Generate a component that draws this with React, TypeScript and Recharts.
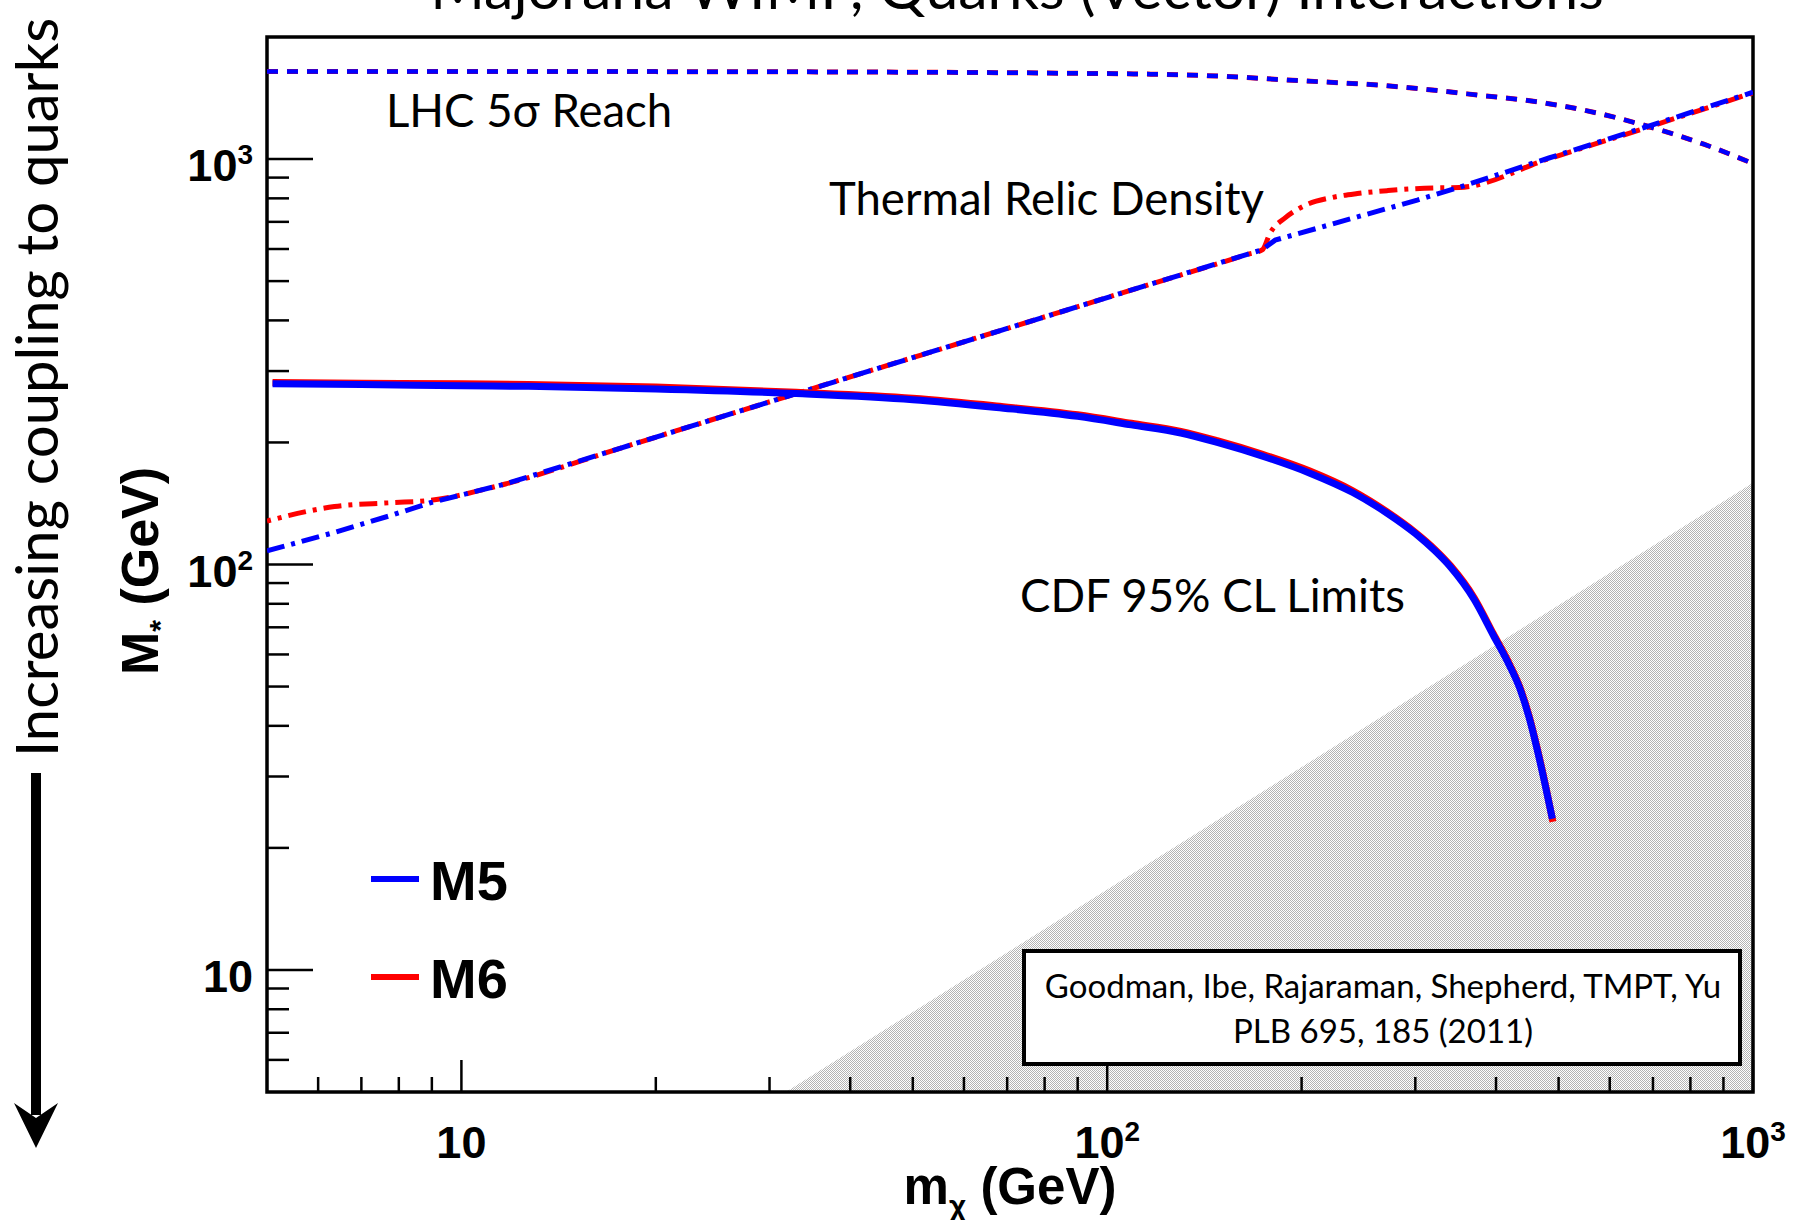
import React from "react";
import {
  ComposedChart,
  Line,
  Area,
  XAxis,
  YAxis,
  ReferenceArea
} from "recharts";

// plot frame in page pixels
const W = 1800;
const H = 1220;
const PLOT_LEFT = 267;
const PLOT_TOP = 37;
const PLOT_RIGHT = 1753;
const PLOT_BOTTOM = 1092;

const X_DOMAIN = [5, 1000];
const Y_DOMAIN = [5, 2000];

const X_TICKS = [6, 7, 8, 9, 10, 20, 30, 40, 50, 60, 70, 80, 90, 100, 200, 300, 400, 500, 600, 700, 800, 900, 1000];
const Y_TICKS = [6, 7, 8, 9, 10, 20, 30, 40, 50, 60, 70, 80, 90, 100, 200, 300, 400, 500, 600, 700, 800, 900, 1000];

// LHC 5 sigma reach (dashed)
const LHC_REACH = [
  { x: 5, y: 1645 }, { x: 10, y: 1645 }, { x: 20, y: 1643 }, { x: 48, y: 1638 },
  { x: 80, y: 1630 }, { x: 133, y: 1612 }, { x: 200, y: 1560 }, { x: 274, y: 1514 },
  { x: 380, y: 1435 }, { x: 454, y: 1390 }, { x: 545, y: 1322 }, { x: 695, y: 1198 },
  { x: 839, y: 1088 }, { x: 1000, y: 975 }
];

// thermal relic density (dash-dot)
const RELIC_M5 = [
  { x: 5, y: 108 }, { x: 6.36, y: 120 }, { x: 7.76, y: 132 }, { x: 8.95, y: 142 },
  { x: 11.7, y: 158 }, { x: 17.7, y: 194 }, { x: 32, y: 260 }, { x: 68.5, y: 378 },
  { x: 117.5, y: 493 }, { x: 174, y: 598 }, { x: 182, y: 631 }, { x: 244, y: 720 },
  { x: 302, y: 792 }, { x: 351, y: 852 }, { x: 483, y: 1006 }, { x: 695, y: 1211 },
  { x: 1000, y: 1462 }
];
const RELIC_M6 = [
  { x: 5, y: 128 }, { x: 6.36, y: 139 }, { x: 7.76, y: 142 }, { x: 8.95, y: 144 },
  { x: 11.7, y: 158 }, { x: 17.7, y: 194 }, { x: 32, y: 260 }, { x: 68.5, y: 378 },
  { x: 117.5, y: 493 }, { x: 165, y: 582 }, { x: 174, y: 598 }, { x: 178.6, y: 655 },
  { x: 189, y: 718 }, { x: 203, y: 770 }, { x: 223, y: 804 }, { x: 244, y: 822 },
  { x: 272, y: 836 }, { x: 321, y: 849 }, { x: 351, y: 851 }, { x: 483, y: 1002 },
  { x: 695, y: 1205 }, { x: 1000, y: 1457 }
];

// CDF 95% CL limits (solid)
const CDF_M5 = [
  { x: 5.1, y: 279 }, { x: 7, y: 278 }, { x: 10, y: 276 }, { x: 12.7, y: 275 },
  { x: 20, y: 271 }, { x: 33, y: 264 }, { x: 50, y: 255 }, { x: 67.4, y: 244 },
  { x: 90, y: 232 }, { x: 109, y: 221 }, { x: 130, y: 211 }, { x: 148, y: 200 },
  { x: 174, y: 185 }, { x: 206, y: 168 }, { x: 240, y: 150.5 }, { x: 271, y: 134 },
  { x: 300, y: 119.2 }, { x: 322, y: 107.9 }, { x: 340, y: 98.6 }, { x: 370, y: 82 },
  { x: 396, y: 67 }, { x: 420, y: 56.2 }, { x: 436, y: 49.2 }, { x: 450, y: 42 },
  { x: 463, y: 35.1 }, { x: 478, y: 28 }, { x: 489, y: 23.6 }
];
const CDF_M6 = [
  { x: 5.1, y: 281 }, { x: 7, y: 280 }, { x: 10, y: 279 }, { x: 12.7, y: 278 },
  { x: 20, y: 274 }, { x: 33, y: 266 }, { x: 50, y: 257 }, { x: 67.4, y: 246 },
  { x: 90, y: 234 }, { x: 109, y: 223 }, { x: 130, y: 213 }, { x: 148, y: 202 },
  { x: 174, y: 187 }, { x: 206, y: 170 }, { x: 240, y: 152 }, { x: 271, y: 135 },
  { x: 300, y: 120 }, { x: 322, y: 108.8 }, { x: 340, y: 99.4 }, { x: 370, y: 82.8 },
  { x: 396, y: 67.6 }, { x: 420, y: 56.7 }, { x: 436, y: 49.6 }, { x: 450, y: 42.4 },
  { x: 463, y: 35.4 }, { x: 478, y: 28.2 }, { x: 490, y: 23.2 }
];

// region where the effective theory breaks down
const INVALID_REGION = [
  { x: 31.8, y: 5 },
  { x: 1000, y: 159 }
];

const BLUE = "#0000ff";
const RED = "#ff0000";
const LABEL_FONT = "'Liberation Sans', Arial, Helvetica, sans-serif";
const TEXT_FONT = "Lato, 'Open Sans', sans-serif";

const isDecade = (v: number) => Math.abs(Math.log10(v) - Math.round(Math.log10(v))) < 1e-9;

const DecadeLabel = ({ v }: { v: number }) => {
  const p = Math.round(Math.log10(v));
  if (p === 1) return <>10</>;
  return (
    <>
      10
      <tspan dy={-17} fontSize={28}>{p}</tspan>
    </>
  );
};

const XTick = (props: any) => {
  const { x, payload } = props;
  const v = payload.value;
  const major = isDecade(v);
  return (
    <g>
      <line x1={x} x2={x} y1={PLOT_BOTTOM} y2={PLOT_BOTTOM - (major ? 32 : 15)} stroke="#000" strokeWidth={2.5} />
      {major && (
        <text x={x} y={1158} textAnchor="middle" fontFamily={LABEL_FONT} fontWeight="bold" fontSize={45} fill="#000">
          <DecadeLabel v={v} />
        </text>
      )}
    </g>
  );
};

const YTick = (props: any) => {
  const { y, payload } = props;
  const v = payload.value;
  const major = isDecade(v);
  return (
    <g>
      <line x1={PLOT_LEFT} x2={PLOT_LEFT + (major ? 46 : 22)} y1={y} y2={y} stroke="#000" strokeWidth={2.5} />
      {major && (
        <text x={253} y={y + 22} textAnchor="end" fontFamily={LABEL_FONT} fontWeight="bold" fontSize={45} fill="#000">
          <DecadeLabel v={v} />
        </text>
      )}
    </g>
  );
};

const Annotations = () => (
  <svg width={W} height={H} style={{ position: "absolute", left: 0, top: 0, pointerEvents: "none" }}>
    <text x={1017} y={9} textAnchor="middle" fontFamily={TEXT_FONT} fontSize={59} fill="#000">
      Majorana WIMP, Quarks (Vector) Interactions
    </text>

    {/* side note with the downward arrow */}
    <text transform="translate(58,757) rotate(-90)" fontFamily={TEXT_FONT} fontSize={58} fill="#000">
      Increasing coupling to quarks
    </text>
    <line x1={36} x2={36} y1={773} y2={1115} stroke="#000" strokeWidth={10} />
    <polygon points="14,1103 36,1148 58,1103 36,1118" fill="#000" />

    {/* axis titles */}
    <text transform="translate(158,571) rotate(-90)" textAnchor="middle" fontFamily={LABEL_FONT} fontWeight="bold" fontSize={52} fill="#000">
      M<tspan fontSize={30} dy={12}>*</tspan>
      <tspan dy={-12}> (GeV)</tspan>
    </text>
    <text x={1010} y={1204} textAnchor="middle" fontFamily={LABEL_FONT} fontWeight="bold" fontSize={51} fill="#000">
      m<tspan fontSize={30} dy={12}>χ</tspan>
      <tspan dy={-12}> (GeV)</tspan>
    </text>

    {/* curve labels */}
    <text x={386} y={127} fontFamily={TEXT_FONT} fontSize={45.5} fill="#000">LHC 5σ Reach</text>
    <text x={829} y={215} fontFamily={TEXT_FONT} fontSize={45.5} fill="#000">Thermal Relic Density</text>
    <text x={1020} y={612} fontFamily={TEXT_FONT} fontSize={45.5} fill="#000">CDF 95% CL Limits</text>

    {/* legend */}
    <line x1={371} x2={419} y1={879} y2={879} stroke={BLUE} strokeWidth={6} />
    <text x={430} y={900} fontFamily={LABEL_FONT} fontWeight="bold" fontSize={56} fill="#000">M5</text>
    <line x1={371} x2={419} y1={977} y2={977} stroke={RED} strokeWidth={6} />
    <text x={430} y={998} fontFamily={LABEL_FONT} fontWeight="bold" fontSize={56} fill="#000">M6</text>

    {/* reference box */}
    <rect x={1024} y={951} width={716} height={113} fill="#fff" stroke="#000" strokeWidth={4} />
    <text x={1383} y={998} textAnchor="middle" fontFamily={TEXT_FONT} fontSize={33} fill="#000">
      Goodman, Ibe, Rajaraman, Shepherd, TMPT, Yu
    </text>
    <text x={1383} y={1043} textAnchor="middle" fontFamily={TEXT_FONT} fontSize={33} fill="#000">
      PLB 695, 185 (2011)
    </text>
  </svg>
);

export default function App() {
  return (
    <div style={{ position: "absolute", left: 0, top: 0, width: W, height: H, background: "#fff" }}>
      <ComposedChart
        width={W}
        height={H}
        margin={{ top: PLOT_TOP, right: W - PLOT_RIGHT, left: 0, bottom: 0 }}
      >
        <defs>
          <pattern id="hatch" width="2" height="2" patternUnits="userSpaceOnUse">
            <rect x="0" y="0" width="1" height="1" fill="#b4b4b4" />
            <rect x="1" y="1" width="1" height="1" fill="#b4b4b4" />
          </pattern>
        </defs>
        <XAxis
          dataKey="x"
          type="number"
          scale="log"
          domain={X_DOMAIN}
          allowDataOverflow
          ticks={X_TICKS}
          interval={0}
          tick={(p: any) => <XTick {...p} />}
          tickLine={false}
          axisLine={false}
          height={H - PLOT_BOTTOM}
        />
        <YAxis
          type="number"
          scale="log"
          domain={Y_DOMAIN}
          allowDataOverflow
          ticks={Y_TICKS}
          interval={0}
          tick={(p: any) => <YTick {...p} />}
          tickLine={false}
          axisLine={false}
          width={PLOT_LEFT}
        />
        <Area
          data={INVALID_REGION}
          dataKey="y"
          type="linear"
          fill="url(#hatch)"
          fillOpacity={1}
          stroke="none"
          baseValue={5}
          isAnimationActive={false}
        />
        <Line data={LHC_REACH} dataKey="y" type="monotone" stroke={RED} strokeWidth={5} strokeDasharray="11 9" dot={false} isAnimationActive={false} />
        <Line data={LHC_REACH} dataKey="y" type="monotone" stroke={BLUE} strokeWidth={4.5} strokeDasharray="11 9" dot={false} isAnimationActive={false} />
        <Line data={RELIC_M6} dataKey="y" type="monotone" stroke={RED} strokeWidth={5} strokeDasharray="18 7 4 7" strokeDashoffset={14} dot={false} isAnimationActive={false} />
        <Line data={RELIC_M5} dataKey="y" type="linear" stroke={BLUE} strokeWidth={5} strokeDasharray="18 7 4 7" dot={false} isAnimationActive={false} />
        <Line data={CDF_M6} dataKey="y" type="monotone" stroke={RED} strokeWidth={7} dot={false} isAnimationActive={false} />
        <Line data={CDF_M5} dataKey="y" type="monotone" stroke={BLUE} strokeWidth={7} dot={false} isAnimationActive={false} />
        <ReferenceArea
          x1={X_DOMAIN[0]}
          x2={X_DOMAIN[1]}
          y1={Y_DOMAIN[0]}
          y2={Y_DOMAIN[1]}
          fill="none"
          fillOpacity={0}
          stroke="#000"
          strokeWidth={3.5}
          ifOverflow="visible"
        />
      </ComposedChart>
      <Annotations />
    </div>
  );
}
